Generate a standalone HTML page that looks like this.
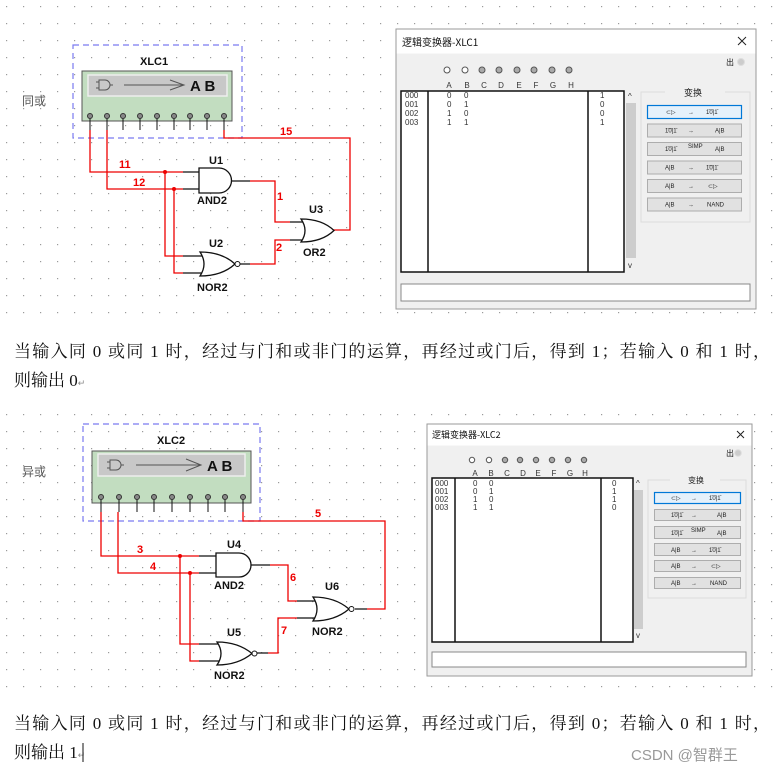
<!DOCTYPE html>
<html><head><meta charset="utf-8"><style>
html,body{margin:0;padding:0;background:#fff;}
svg{display:block;}
.s{font-family:"Liberation Sans",sans-serif;}
.r{fill:#e00;font-family:"Liberation Sans",sans-serif;font-weight:bold;font-size:11px;}
.b{font-family:"Liberation Sans",sans-serif;font-weight:bold;font-size:11px;fill:#111;}
.w{stroke:#e00;stroke-width:1.3;fill:none;}
.k{stroke:#111;stroke-width:1.3;fill:none;}
.g{stroke:#111;stroke-width:1.3;fill:#fff;}
.t{font-family:"Liberation Sans",sans-serif;font-size:8px;fill:#333;}
.btn{fill:#e1e1e1;stroke:#adadad;stroke-width:1;}
.bt{font-family:"Liberation Sans",sans-serif;font-size:6px;fill:#222;}
.cn{font-family:"Liberation Serif","Noto Serif CJK SC",serif;font-size:17px;fill:#111;}
</style></head><body>
<svg width="778" height="773" viewBox="0 0 778 773" xmlns="http://www.w3.org/2000/svg">
<defs>
<pattern id="dots" width="17" height="17" patternUnits="userSpaceOnUse" x="6" y="6">
<rect x="0" y="0" width="1.2" height="1.2" fill="#9a9a9a"/>
</pattern>
</defs>
<rect x="0" y="0" width="778" height="320" fill="url(#dots)"/>
<rect x="0" y="405" width="778" height="292" fill="url(#dots)"/>

<!-- ================= TOP SCHEMATIC ================= -->
<text x="22" y="105" font-family="Noto Sans CJK SC,sans-serif" font-size="12" fill="#555">同或</text>
<rect x="73" y="45" width="169" height="93" fill="none" stroke="#7a7af0" stroke-width="1.2" stroke-dasharray="6,4"/>
<text x="140" y="65" class="b" font-family="Liberation Mono,monospace">XLC1</text>
<rect x="82" y="71" width="150" height="50" fill="#c2ddc0" stroke="#555" stroke-width="1"/>
<rect x="88" y="75" width="139" height="21" fill="#c8c8c8" stroke="#eee" stroke-width="1.5"/>
<path d="M99 80 h6 a5 5 0 0 1 0 10 h-6 z M96 82h3 M96 88h3 M110 85h3" stroke="#555" fill="none"/>
<path d="M124 85 H183 M170 80 L184 85 L170 90" stroke="#555" fill="none"/>
<text x="190" y="91" class="s" font-weight="bold" font-size="15" fill="#111">A B</text>
<g id="pins1">
<line x1="90" y1="116" x2="90" y2="130" stroke="#111"/><circle cx="90" cy="116" r="2.5" fill="#888" stroke="#333"/>
<line x1="107" y1="116" x2="107" y2="130" stroke="#111"/><circle cx="107" cy="116" r="2.5" fill="#888" stroke="#333"/>
<line x1="123" y1="116" x2="123" y2="130" stroke="#111"/><circle cx="123" cy="116" r="2.5" fill="#888" stroke="#333"/>
<line x1="140" y1="116" x2="140" y2="130" stroke="#111"/><circle cx="140" cy="116" r="2.5" fill="#888" stroke="#333"/>
<line x1="157" y1="116" x2="157" y2="130" stroke="#111"/><circle cx="157" cy="116" r="2.5" fill="#888" stroke="#333"/>
<line x1="174" y1="116" x2="174" y2="130" stroke="#111"/><circle cx="174" cy="116" r="2.5" fill="#888" stroke="#333"/>
<line x1="190" y1="116" x2="190" y2="130" stroke="#111"/><circle cx="190" cy="116" r="2.5" fill="#888" stroke="#333"/>
<line x1="207" y1="116" x2="207" y2="130" stroke="#111"/><circle cx="207" cy="116" r="2.5" fill="#888" stroke="#333"/>
<line x1="224" y1="116" x2="224" y2="130" stroke="#111"/><circle cx="224" cy="116" r="2.5" fill="#888" stroke="#333"/>
</g>
<path class="w" d="M90 130 V172 H183"/>
<path class="w" d="M107 130 V189 H183"/>
<path class="w" d="M165 172 V256 H183"/>
<path class="w" d="M174 189 V273 H183"/>
<path class="w" d="M250 181 H275 V222 H290"/>
<path class="w" d="M250 264 H275 V240 H290"/>
<path class="w" d="M333 230 H350 V138 H224 V130"/>
<circle cx="165" cy="172" r="2" fill="#e00"/><circle cx="174" cy="189" r="2" fill="#e00"/>
<path class="k" d="M183 172 H200 M183 189 H200 M183 256 H202 M183 273 H202 M232 181 H250 M240 264 H250 M290 222 H304 M290 240 H304"/>
<path class="g" d="M199 168 H219 A12.5 12.5 0 0 1 219 193 H199 Z"/>
<path class="g" d="M200 252 Q208 264 200 276 Q222 276 235 264 Q222 252 200 252 Z"/>
<circle cx="237.5" cy="264" r="2.5" fill="#fff" stroke="#111"/>
<path class="g" d="M301 219 Q309 230.5 301 242 Q322 242 334 230.5 Q322 219 301 219 Z"/>
<text x="209" y="164" class="b" font-size="12">U1</text>
<text x="197" y="204" class="b" font-size="12">AND2</text>
<text x="209" y="247" class="b" font-size="12">U2</text>
<text x="197" y="291" class="b" font-size="12">NOR2</text>
<text x="309" y="213" class="b" font-size="12">U3</text>
<text x="303" y="256" class="b" font-size="12">OR2</text>
<text x="119" y="168" class="r">11</text>
<text x="133" y="186" class="r">12</text>
<text x="277" y="200" class="r">1</text>
<text x="276" y="251" class="r">2</text>
<text x="280" y="135" class="r">15</text>

<!-- ================= TOP DIALOG ================= -->
<rect x="396" y="29" width="360" height="280" fill="#f0f0f0" stroke="#9a9a9a"/>
<rect x="396.5" y="29.5" width="359" height="24" fill="#fff"/>
<text x="402" y="46" font-family="Noto Sans CJK SC,sans-serif" font-size="10" fill="#111">逻辑变换器-XLC1</text>
<path d="M738 37 l8 8 M746 37 l-8 8" stroke="#222" stroke-width="1"/>
<text x="726" y="65" font-family="Noto Sans CJK SC,sans-serif" font-size="8" fill="#222">出</text>
<circle cx="741" cy="62" r="3.5" fill="#ccc" stroke="#ddd"/>
<g fill="none" stroke="#555">
<circle cx="447" cy="70" r="3" fill="#fff"/><circle cx="465" cy="70" r="3" fill="#fff"/>
<circle cx="482" cy="70" r="3" fill="#aaa"/><circle cx="499" cy="70" r="3" fill="#aaa"/>
<circle cx="517" cy="70" r="3" fill="#aaa"/><circle cx="534" cy="70" r="3" fill="#aaa"/>
<circle cx="552" cy="70" r="3" fill="#aaa"/><circle cx="569" cy="70" r="3" fill="#aaa"/>
</g>
<g class="t" text-anchor="middle">
<text x="449" y="88">A</text><text x="467" y="88">B</text><text x="484" y="88">C</text><text x="501" y="88">D</text><text x="519" y="88">E</text><text x="536" y="88">F</text><text x="553" y="88">G</text><text x="571" y="88">H</text>
</g>
<rect x="401" y="91" width="223" height="181" fill="#fff" stroke="#111" stroke-width="1.5"/>
<line x1="428" y1="91" x2="428" y2="272" stroke="#111" stroke-width="1.5"/>
<line x1="588" y1="91" x2="588" y2="272" stroke="#111" stroke-width="1.5"/>
<g class="t" font-size="7.5">
<text x="405" y="98">000</text><text x="405" y="107">001</text><text x="405" y="116">002</text><text x="405" y="125">003</text>
<text x="447" y="98">0</text><text x="464" y="98">0</text>
<text x="447" y="107">0</text><text x="464" y="107">1</text>
<text x="447" y="116">1</text><text x="464" y="116">0</text>
<text x="447" y="125">1</text><text x="464" y="125">1</text>
<text x="600" y="98">1</text><text x="600" y="107">0</text><text x="600" y="116">0</text><text x="600" y="125">1</text>
</g>
<rect x="626" y="103" width="10" height="155" fill="#cdcdcd"/>
<text x="628" y="99" class="t" font-size="7">^</text><text x="628" y="268" class="t" font-size="7">v</text>
<rect x="641" y="92" width="109" height="130" fill="#f0f0f0" stroke="#dcdcdc"/>
<rect x="665" y="86" width="60" height="12" fill="#f0f0f0"/>
<text x="684" y="96" font-family="Noto Sans CJK SC,sans-serif" font-size="9" fill="#222">变换</text>
<rect x="647.5" y="105.5" width="94" height="13" fill="#e5f1fb" stroke="#0078d7" stroke-width="1.2"/>
<rect x="647.5" y="124" width="94" height="13" class="btn"/>
<rect x="647.5" y="142.5" width="94" height="13" class="btn"/>
<rect x="647.5" y="161" width="94" height="13" class="btn"/>
<rect x="647.5" y="179.5" width="94" height="13" class="btn"/>
<rect x="647.5" y="198" width="94" height="13" class="btn"/>
<g class="bt">
<text x="666" y="114">⊂▷</text><text x="688" y="114">→</text><text x="706" y="114">1̄0̄|1̄</text>
<text x="665" y="132.5">1̄0̄|1̄</text><text x="688" y="132.5">→</text><text x="715" y="132.5">A|B</text>
<text x="665" y="151">1̄0̄|1̄</text><text x="688" y="148">SIMP</text><text x="715" y="151">A|B</text>
<text x="665" y="169.5">A|B</text><text x="688" y="169.5">→</text><text x="706" y="169.5">1̄0̄|1̄</text>
<text x="665" y="188">A|B</text><text x="688" y="188">→</text><text x="708" y="188">⊂▷</text>
<text x="665" y="206.5">A|B</text><text x="688" y="206.5">→</text><text x="707" y="206.5">NAND</text>
</g>
<rect x="401" y="284" width="349" height="17" fill="#fff" stroke="#888"/>

<text x="14" y="357" class="cn" textLength="756">当输入同 0 或同 1 时，经过与门和或非门的运算，再经过或门后，得到 1；若输入 0 和 1 时，</text>
<text x="14" y="386" class="cn">则输出 0<tspan font-size="9" fill="#888">↵</tspan></text>

<!-- ================= BOTTOM SCHEMATIC ================= -->
<text x="22" y="476" font-family="Noto Sans CJK SC,sans-serif" font-size="12" fill="#555">异或</text>
<rect x="83" y="424" width="177" height="97" fill="none" stroke="#7a7af0" stroke-width="1.2" stroke-dasharray="6,4"/>
<text x="157" y="444" class="b" font-size="12">XLC2</text>
<rect x="92" y="451" width="159" height="52" fill="#c2ddc0" stroke="#555" stroke-width="1"/>
<rect x="98" y="454" width="147" height="22" fill="#c8c8c8" stroke="#eee" stroke-width="1.5"/>
<path d="M110 460 h6 a5 5 0 0 1 0 10 h-6 z M107 462h3 M107 468h3 M121 465h3" stroke="#555" fill="none"/>
<path d="M136 465 H200 M186 459 L201 465 L186 471" stroke="#555" fill="none"/>
<text x="207" y="471" class="s" font-weight="bold" font-size="15" fill="#111">A B</text>
<g>
<line x1="101" y1="497" x2="101" y2="512" stroke="#111"/><circle cx="101" cy="497" r="2.5" fill="#888" stroke="#333"/>
<line x1="119" y1="497" x2="119" y2="512" stroke="#111"/><circle cx="119" cy="497" r="2.5" fill="#888" stroke="#333"/>
<line x1="137" y1="497" x2="137" y2="512" stroke="#111"/><circle cx="137" cy="497" r="2.5" fill="#888" stroke="#333"/>
<line x1="154" y1="497" x2="154" y2="512" stroke="#111"/><circle cx="154" cy="497" r="2.5" fill="#888" stroke="#333"/>
<line x1="172" y1="497" x2="172" y2="512" stroke="#111"/><circle cx="172" cy="497" r="2.5" fill="#888" stroke="#333"/>
<line x1="190" y1="497" x2="190" y2="512" stroke="#111"/><circle cx="190" cy="497" r="2.5" fill="#888" stroke="#333"/>
<line x1="208" y1="497" x2="208" y2="512" stroke="#111"/><circle cx="208" cy="497" r="2.5" fill="#888" stroke="#333"/>
<line x1="225" y1="497" x2="225" y2="512" stroke="#111"/><circle cx="225" cy="497" r="2.5" fill="#888" stroke="#333"/>
<line x1="243" y1="497" x2="243" y2="512" stroke="#111"/><circle cx="243" cy="497" r="2.5" fill="#888" stroke="#333"/>
</g>
<path class="w" d="M101 512 V556 H199"/>
<path class="w" d="M118 512 V573 H199"/>
<path class="w" d="M180 556 V644 H199"/>
<path class="w" d="M190 573 V661 H199"/>
<path class="w" d="M270 565 H288 V601 H297"/>
<path class="w" d="M268 653 H278 V618 H297"/>
<path class="w" d="M367 609 H385 V521 H243 V512"/>
<circle cx="180" cy="556" r="2" fill="#e00"/><circle cx="190" cy="573" r="2" fill="#e00"/>
<path class="k" d="M199 556 H217 M199 573 H217 M199 644 H219 M199 661 H219 M251 565 H270 M257 653 H268 M297 601 H316 M297 618 H316 M355 609 H367"/>
<path class="g" d="M216 553 H239 A12 12 0 0 1 239 577 H216 Z"/>
<path class="g" d="M217 642 Q225 653.5 217 665 Q238 665 252 653.5 Q238 642 217 642 Z"/>
<circle cx="254.5" cy="653.5" r="2.5" fill="#fff" stroke="#111"/>
<path class="g" d="M313 597 Q321 609 313 621 Q335 621 349 609 Q335 597 313 597 Z"/>
<circle cx="351.5" cy="609" r="2.5" fill="#fff" stroke="#111"/>
<text x="227" y="548" class="b" font-size="12">U4</text>
<text x="214" y="589" class="b" font-size="12">AND2</text>
<text x="227" y="636" class="b" font-size="12">U5</text>
<text x="214" y="679" class="b" font-size="12">NOR2</text>
<text x="325" y="590" class="b" font-size="12">U6</text>
<text x="312" y="635" class="b" font-size="12">NOR2</text>
<text x="137" y="553" class="r">3</text>
<text x="150" y="570" class="r">4</text>
<text x="290" y="581" class="r">6</text>
<text x="281" y="634" class="r">7</text>
<text x="315" y="517" class="r">5</text>

<!-- ================= BOTTOM DIALOG ================= -->
<rect x="427" y="424" width="325" height="252" fill="#f0f0f0" stroke="#9a9a9a"/>
<rect x="427.5" y="424.5" width="324" height="21" fill="#fff"/>
<text x="432" y="438" font-family="Noto Sans CJK SC,sans-serif" font-size="9" fill="#111">逻辑变换器-XLC2</text>
<path d="M737 431 l7 7 M744 431 l-7 7" stroke="#222" stroke-width="1"/>
<text x="726" y="456" font-family="Noto Sans CJK SC,sans-serif" font-size="8" fill="#222">出</text>
<circle cx="738" cy="453" r="3.3" fill="#ccc" stroke="#ddd"/>
<g stroke="#555">
<circle cx="472" cy="460" r="2.7" fill="#fff"/><circle cx="489" cy="460" r="2.7" fill="#fff"/>
<circle cx="505" cy="460" r="2.7" fill="#aaa"/><circle cx="520" cy="460" r="2.7" fill="#aaa"/>
<circle cx="536" cy="460" r="2.7" fill="#aaa"/><circle cx="552" cy="460" r="2.7" fill="#aaa"/>
<circle cx="568" cy="460" r="2.7" fill="#aaa"/><circle cx="584" cy="460" r="2.7" fill="#aaa"/>
</g>
<g class="t" font-size="7" text-anchor="middle">
<text x="475" y="476">A</text><text x="491" y="476">B</text><text x="507" y="476">C</text><text x="523" y="476">D</text><text x="538" y="476">E</text><text x="554" y="476">F</text><text x="570" y="476">G</text><text x="585" y="476">H</text>
</g>
<rect x="432" y="478" width="201" height="164" fill="#fff" stroke="#111" stroke-width="1.5"/>
<line x1="455" y1="478" x2="455" y2="642" stroke="#111" stroke-width="1.5"/>
<line x1="601" y1="478" x2="601" y2="642" stroke="#111" stroke-width="1.5"/>
<g class="t" font-size="7">
<text x="435" y="486">000</text><text x="435" y="494">001</text><text x="435" y="502">002</text><text x="435" y="510">003</text>
<text x="473" y="486">0</text><text x="489" y="486">0</text>
<text x="473" y="494">0</text><text x="489" y="494">1</text>
<text x="473" y="502">1</text><text x="489" y="502">0</text>
<text x="473" y="510">1</text><text x="489" y="510">1</text>
<text x="612" y="486">0</text><text x="612" y="494">1</text><text x="612" y="502">1</text><text x="612" y="510">0</text>
</g>
<rect x="634" y="490" width="9" height="139" fill="#cdcdcd"/>
<text x="636" y="486" class="t" font-size="6">^</text><text x="636" y="638" class="t" font-size="6">v</text>
<rect x="648" y="480" width="98" height="118" fill="#f0f0f0" stroke="#dcdcdc"/>
<rect x="670" y="474" width="50" height="12" fill="#f0f0f0"/>
<text x="688" y="483" font-family="Noto Sans CJK SC,sans-serif" font-size="8" fill="#222">变换</text>
<rect x="654.5" y="492.5" width="86" height="11" fill="#e5f1fb" stroke="#0078d7" stroke-width="1.2"/>
<rect x="654.5" y="509.5" width="86" height="11" class="btn"/>
<rect x="654.5" y="526.5" width="86" height="12" class="btn"/>
<rect x="654.5" y="543.5" width="86" height="12" class="btn"/>
<rect x="654.5" y="560.5" width="86" height="11" class="btn"/>
<rect x="654.5" y="577.5" width="86" height="11" class="btn"/>
<g class="bt" font-size="5.5">
<text x="671" y="500">⊂▷</text><text x="691" y="500">→</text><text x="709" y="500">1̄0̄|1̄</text>
<text x="671" y="517">1̄0̄|1̄</text><text x="691" y="517">→</text><text x="717" y="517">A|B</text>
<text x="671" y="535">1̄0̄|1̄</text><text x="691" y="532">SIMP</text><text x="717" y="535">A|B</text>
<text x="671" y="552">A|B</text><text x="691" y="552">→</text><text x="709" y="552">1̄0̄|1̄</text>
<text x="671" y="568">A|B</text><text x="691" y="568">→</text><text x="711" y="568">⊂▷</text>
<text x="671" y="585">A|B</text><text x="691" y="585">→</text><text x="710" y="585">NAND</text>
</g>
<rect x="432" y="652" width="314" height="15" fill="#fff" stroke="#888"/>

<text x="14" y="729" class="cn" textLength="756">当输入同 0 或同 1 时，经过与门和或非门的运算，再经过或门后，得到 0；若输入 0 和 1 时，</text>
<text x="14" y="758" class="cn">则输出 1<tspan font-size="9" fill="#888">↵</tspan></text>
<line x1="83" y1="743" x2="83" y2="762" stroke="#111" stroke-width="1"/>
<text x="631" y="760" font-family="Liberation Sans,Noto Sans CJK SC,sans-serif" font-size="15" fill="#999">CSDN @智群王</text>
</svg>
</body></html>
